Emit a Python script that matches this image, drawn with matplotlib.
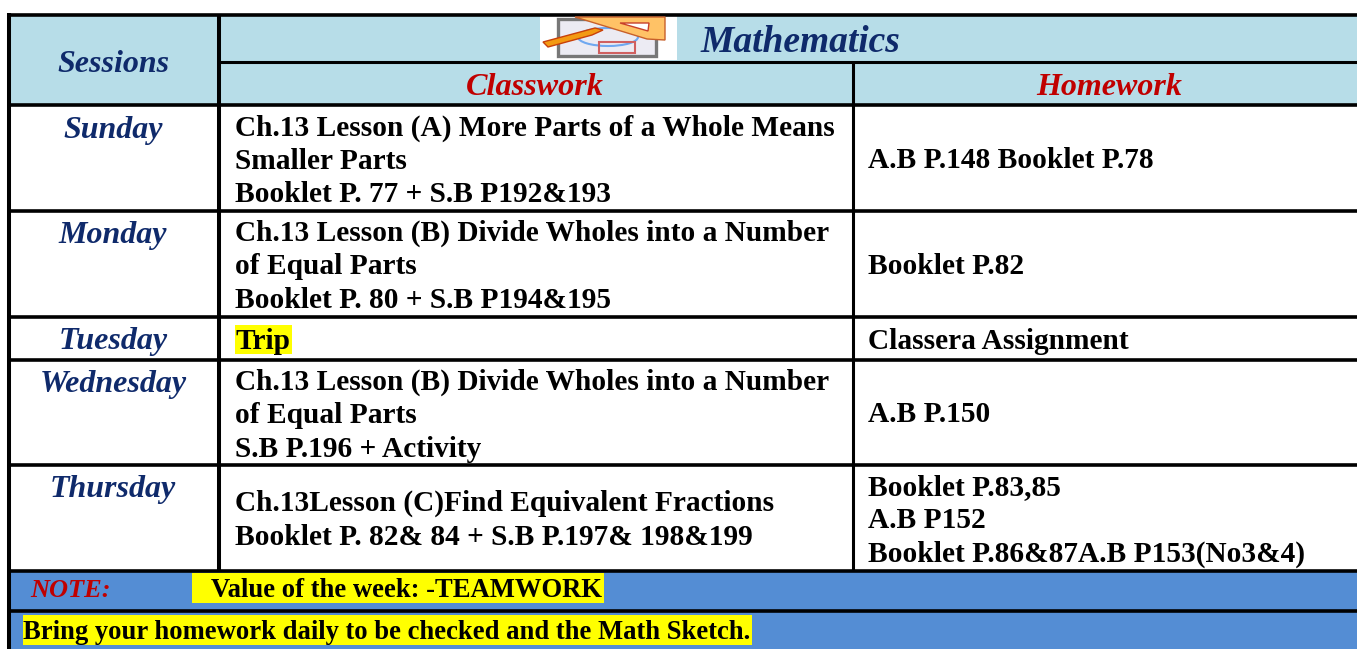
import matplotlib
matplotlib.use("Agg")
import matplotlib.pyplot as plt
from matplotlib.patches import Rectangle, Polygon, Ellipse

plt.rcParams["font.family"] = ["Liberation Serif", "DejaVu Serif"]

W, H = 1357, 649

sessions = ["Sunday", "Monday", "Tuesday", "Wednesday", "Thursday"]
classwork = [
    ["Ch.13 Lesson (A) More Parts of a Whole Means", "Smaller Parts", "Booklet P. 77 + S.B P192&193"],
    ["Ch.13 Lesson (B) Divide Wholes into a Number", "of Equal Parts", "Booklet P. 80 + S.B P194&195"],
    ["Trip"],
    ["Ch.13 Lesson (B) Divide Wholes into a Number", "of Equal Parts", "S.B P.196 + Activity"],
    ["Ch.13Lesson (C)Find Equivalent Fractions", "Booklet P. 82& 84 + S.B P.197& 198&199"],
]
homework = [
    ["A.B P.148 Booklet P.78"],
    ["Booklet P.82"],
    ["Classera Assignment"],
    ["A.B P.150"],
    ["Booklet P.83,85", "A.B P152", "Booklet P.86&87A.B P153(No3&4)"],
]

# layout in image pixels
row_y = [104.5, 210.5, 316.5, 359.5, 464.5, 570.5]
session_y = [127, 232, 338, 381, 486]
classwork_y = [[125, 158, 191], [230, 263, 297], [338], [379, 412, 446], [500, 534]]
homework_y = [[157], [263], [338], [411], [484, 517, 551]]

BLUE = "#b7dde8"
NOTE_BLUE = "#548dd4"
NAVY = "#0f2a6b"
RED = "#c00000"

fig = plt.figure(figsize=(W / 100, H / 100), dpi=100)
ax = fig.add_axes([0, 0, 1, 1])
ax.set_xlim(0, W)
ax.set_ylim(H, 0)
ax.axis("off")


def box(x0, y0, x1, y1, color, z=1):
    ax.add_patch(Rectangle((x0, y0), x1 - x0, y1 - y0, fc=color, ec="none", zorder=z))


def label(x, y, s, size=21.2, color="black", style="normal", ha="left"):
    # va=center sits a bit high for this font, hence the nudge
    ax.text(x, y + 3.5, s, fontsize=size, color=color, fontweight="bold", fontstyle=style,
            ha=ha, va="center", zorder=5)


# backgrounds
box(8, 15, W, 104, BLUE)
box(8, 570, W, 649, NOTE_BLUE)
box(235, 325, 292, 354, "#ffff00", 2)
box(192, 573, 604, 603, "#ffff00", 2)
box(23, 615, 752, 645, "#ffff00", 2)

# grid
for y in [14.5] + row_y + [611]:
    ax.plot([7, W], [y, y], color="black", lw=2.6, solid_capstyle="butt", zorder=4)
ax.plot([218, W], [61.5, 61.5], color="black", lw=2.2, solid_capstyle="butt", zorder=4)
ax.plot([9, 9], [13, H], color="black", lw=2.9, solid_capstyle="butt", zorder=4)
ax.plot([218.5, 218.5], [15, 570], color="black", lw=2.9, solid_capstyle="butt", zorder=4)
ax.plot([852.5, 852.5], [62, 570], color="black", lw=2.2, solid_capstyle="butt", zorder=4)

# header
label(113, 61, "Sessions", 23, NAVY, "italic", "center")
label(800, 39, "Mathematics", 27, NAVY, "italic", "center")
label(535, 84, "Classwork", 23.2, RED, "italic", "center")
label(1109, 84, "Homework", 23, RED, "italic", "center")

# maths icon in the header
box(540, 16, 677, 60, "white", 2)
box(558, 19, 656, 57, "#ecebf3", 3)
ax.add_patch(Rectangle((558, 19), 98, 37, fc="none", ec="#777777", lw=2.4, zorder=3))
ax.add_patch(Ellipse((608, 37), 60, 18, fc="none", ec="#6fa8f0", lw=1.5, zorder=3))
ax.add_patch(Rectangle((599, 42), 36, 11, fc="none", ec="#d06060", lw=1.5, zorder=3))
ax.add_patch(Polygon([(575, 17), (665, 17), (665, 40), (647, 39)], fc="#ffc266", ec="#c8602a", lw=1, zorder=4))
ax.add_patch(Polygon([(620, 23), (649, 23), (648, 31)], fc="white", ec="#c8402a", lw=1, zorder=4))
ax.add_patch(Polygon([(543, 42), (595, 28), (603, 30), (592, 35), (548, 47)], fc="#f39a12", ec="#c8400a", lw=1, zorder=4))

# table body
for name, y in zip(sessions, session_y):
    label(113, y, name, 23, NAVY, "italic", "center")
for lines, ys in zip(classwork, classwork_y):
    for s, y in zip(lines, ys):
        label(235, y, s)
for lines, ys in zip(homework, homework_y):
    for s, y in zip(lines, ys):
        label(868, y, s)

# notes
label(30, 587, "NOTE:", 19, RED, "italic")
label(211, 587, "Value of the week: -TEAMWORK", 19.2)
label(23, 629, "Bring your homework daily to be checked and the Math Sketch.", 19.15)

fig.savefig("out.png", dpi=100)
